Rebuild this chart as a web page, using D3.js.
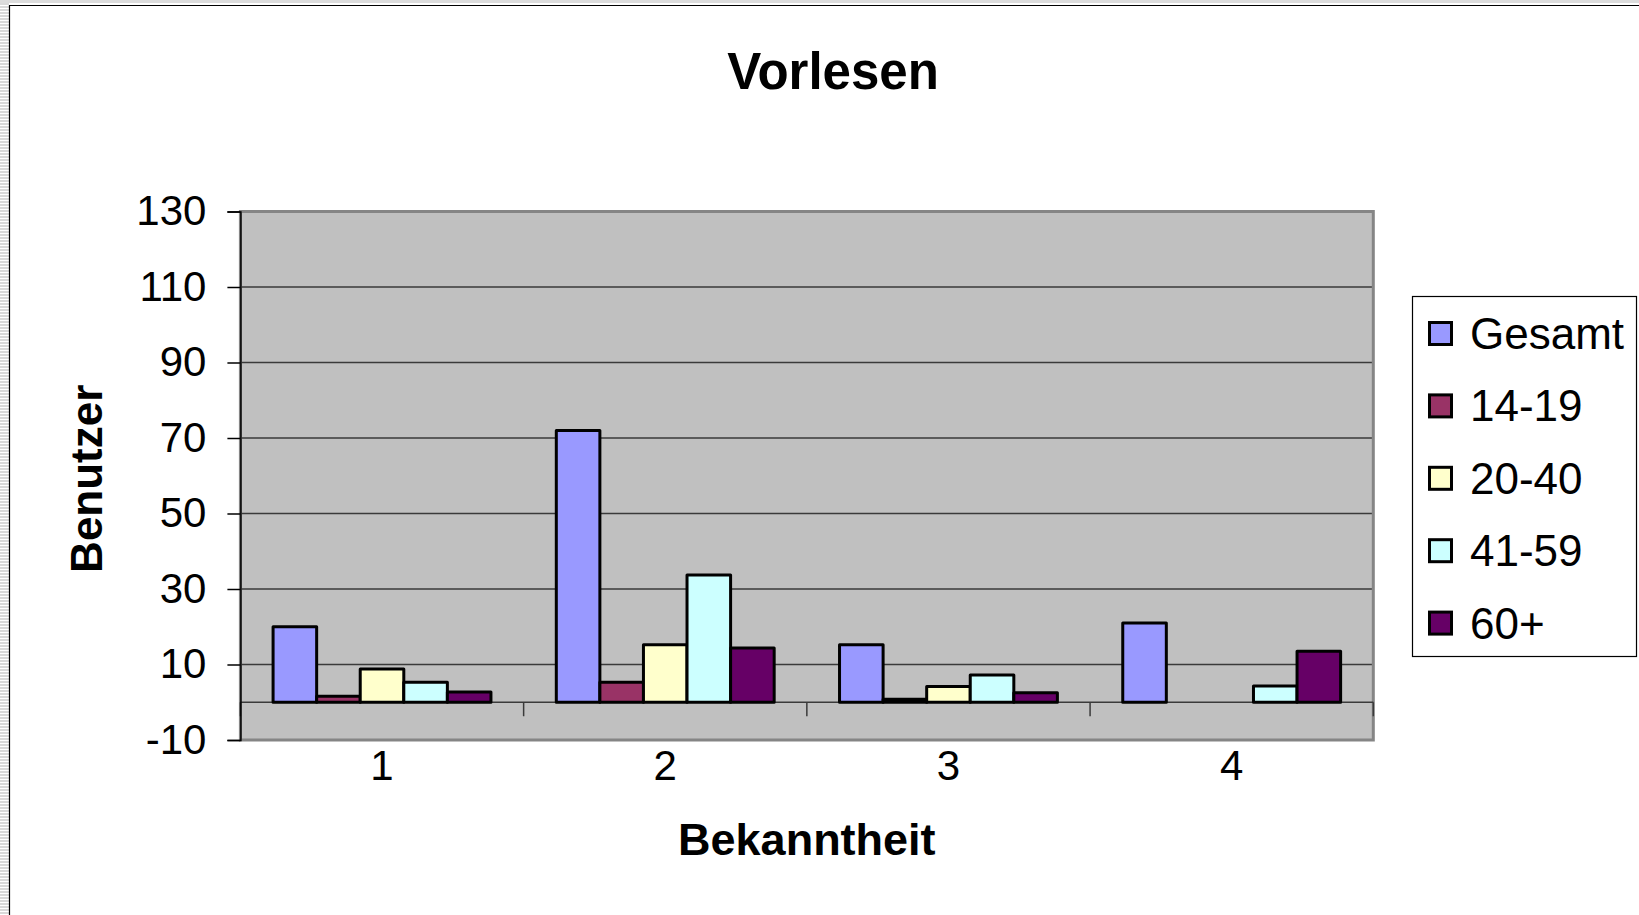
<!DOCTYPE html>
<html>
<head>
<meta charset="utf-8">
<script src="https://cdn.jsdelivr.net/npm/d3@7/dist/d3.min.js"></script>
<style>
  html, body { margin: 0; padding: 0; background: #fff; }
  svg { display: block; }
  text { font-family: "Liberation Sans", Arial, sans-serif; fill: #000; }
</style>
</head>
<body>
<svg id="chart" width="1639" height="915"></svg>
<script>
// ---- data ----
const title = "Vorlesen";
const xTitle = "Bekanntheit";
const yTitle = "Benutzer";
const categories = ["1", "2", "3", "4"];
const seriesNames = ["Gesamt", "14-19", "20-40", "41-59", "60+"];
const gesamt = [20, 72, 15.2, 21];
const s14_19 = [1.6, 5.3, 0.8, 0];
const s20_40 = [8.8, 15.2, 4.2, 0];
const s41_59 = [5.3, 33.7, 7.2, 4.3];
const s60plus = [2.7, 14.4, 2.5, 13.5];
const yTicks = [-10, 10, 30, 50, 70, 90, 110, 130];
const colors = ["#9999FF", "#993366", "#FFFFCC", "#CCFFFF", "#660066"];

const seriesValues = [gesamt, s14_19, s20_40, s41_59, s60plus];

// ---- layout ----
const svg = d3.select("#chart");
const W = 1639, H = 915;
const plot = { left: 240.4, right: 1373.3, top: 211.5, bottom: 740 };

// chart frame
const defs = svg.append("defs");
const pat = defs.append("pattern").attr("id", "stripes")
  .attr("width", 9).attr("height", 3).attr("patternUnits", "userSpaceOnUse");
pat.append("rect").attr("width", 9).attr("height", 3).attr("fill", "#fff");
pat.append("rect").attr("width", 9).attr("height", 2).attr("fill", "#d9d9d9");
svg.append("rect").attr("x", 0).attr("y", 0).attr("width", 9).attr("height", H).attr("fill", "url(#stripes)");
svg.append("rect").attr("x", 0).attr("y", 0).attr("width", W).attr("height", 3).attr("fill", "#dcdcdc");
svg.append("line").attr("x1", 9.5).attr("x2", 9.5).attr("y1", 5).attr("y2", H).attr("stroke", "#000").attr("stroke-width", 1.2);
svg.append("line").attr("x1", 9).attr("x2", W).attr("y1", 5.5).attr("y2", 5.5).attr("stroke", "#000").attr("stroke-width", 1.2);

// scales
const x0 = d3.scaleBand().domain(categories).range([plot.left, plot.right]).padding(0);
const x1 = d3.scaleBand().domain(seriesNames).range([0, x0.bandwidth()])
  .paddingInner(0).paddingOuter(0.75);
const y = d3.scaleLinear().domain([-10, 130]).range([plot.bottom, plot.top]);
const color = d3.scaleOrdinal().domain(seriesNames).range(colors);

// plot area background
svg.append("rect")
  .attr("x", plot.left).attr("y", plot.top)
  .attr("width", plot.right - plot.left).attr("height", plot.bottom - plot.top)
  .attr("fill", "#C0C0C0");

// gridlines
svg.append("g").selectAll("line")
  .data(yTicks.filter(t => t > -10 && t < 130))
  .join("line")
  .attr("x1", plot.left).attr("x2", plot.right)
  .attr("y1", d => y(d)).attr("y2", d => y(d))
  .attr("stroke", "#3a3a3a").attr("stroke-width", 1.3);

// plot border
svg.append("rect")
  .attr("x", plot.left).attr("y", plot.top)
  .attr("width", plot.right - plot.left).attr("height", plot.bottom - plot.top)
  .attr("fill", "none").attr("stroke", "#858585").attr("stroke-width", 3);

// category axis line at 0
svg.append("line")
  .attr("x1", plot.left).attr("x2", plot.right)
  .attr("y1", y(0)).attr("y2", y(0))
  .attr("stroke", "#3a3a3a").attr("stroke-width", 1.5);

// category boundary ticks
const bounds = categories.map(c => x0(c)).concat([x0(categories[categories.length - 1]) + x0.bandwidth()]);
svg.append("g").selectAll("line").data(bounds).join("line")
  .attr("x1", d => d).attr("x2", d => d)
  .attr("y1", y(0)).attr("y2", y(0) + 14)
  .attr("stroke", "#3a3a3a").attr("stroke-width", 1.5);

// bars
const barData = [];
categories.forEach((c, i) => {
  seriesNames.forEach((s, j) => {
    barData.push({ cat: c, series: s, value: seriesValues[j][i] });
  });
});
svg.append("g").selectAll("rect")
  .data(barData.filter(d => d.value > 0))
  .join("rect")
  .attr("x", d => x0(d.cat) + x1(d.series))
  .attr("y", d => y(d.value))
  .attr("width", x1.bandwidth())
  .attr("height", d => y(0) - y(d.value))
  .attr("fill", d => color(d.series))
  .attr("stroke", "#000")
  .attr("stroke-width", 3)
  .attr("stroke-linejoin", "round");

// y axis
const yAxis = d3.axisLeft(y).tickValues(yTicks).tickSize(13).tickPadding(21).tickFormat(d => String(d));
const gy = svg.append("g").attr("transform", `translate(${plot.left},0)`).call(yAxis);
gy.select(".domain").attr("stroke", "#000").attr("stroke-width", 1.5);
gy.selectAll(".tick line").attr("stroke", "#000").attr("stroke-width", 1.5);
gy.selectAll(".tick text")
  .attr("font-size", 42)
  .attr("font-family", "'Liberation Sans', Arial, sans-serif")
  .attr("fill", "#000");

// x axis labels
const xAxis = d3.axisBottom(x0).tickSize(0).tickPadding(10);
const gx = svg.append("g").attr("transform", `translate(0,${plot.bottom})`).call(xAxis);
gx.select(".domain").remove();
gx.selectAll(".tick text")
  .attr("font-size", 42)
  .attr("font-family", "'Liberation Sans', Arial, sans-serif")
  .attr("fill", "#000");

// titles
svg.append("text").attr("x", 833).attr("y", 89)
  .attr("text-anchor", "middle").attr("font-size", 51).attr("font-weight", "bold").text(title);
svg.append("text").attr("x", (plot.left + plot.right) / 2).attr("y", 855)
  .attr("text-anchor", "middle").attr("font-size", 45).attr("font-weight", "bold").text(xTitle);
svg.append("text").attr("transform", `translate(102,${(plot.top + plot.bottom) / 2 + 3}) rotate(-90)`)
  .attr("text-anchor", "middle").attr("font-size", 44).attr("font-weight", "bold").text(yTitle);

// legend
const lg = svg.append("g");
lg.append("rect").attr("x", 1412.5).attr("y", 296.5).attr("width", 224).attr("height", 360)
  .attr("fill", "#fff").attr("stroke", "#000").attr("stroke-width", 1.2);
const items = lg.selectAll("g.item").data(seriesNames).join("g")
  .attr("class", "item")
  .attr("transform", (d, i) => `translate(1428,${333.5 + i * 72.4})`);
items.append("rect").attr("x", 1.5).attr("y", -11).attr("width", 22).attr("height", 22)
  .attr("fill", d => color(d)).attr("stroke", "#000").attr("stroke-width", 3);
items.append("text").attr("x", 42).attr("dy", "0.35em").attr("font-size", 44).text(d => d);
</script>
</body>
</html>
